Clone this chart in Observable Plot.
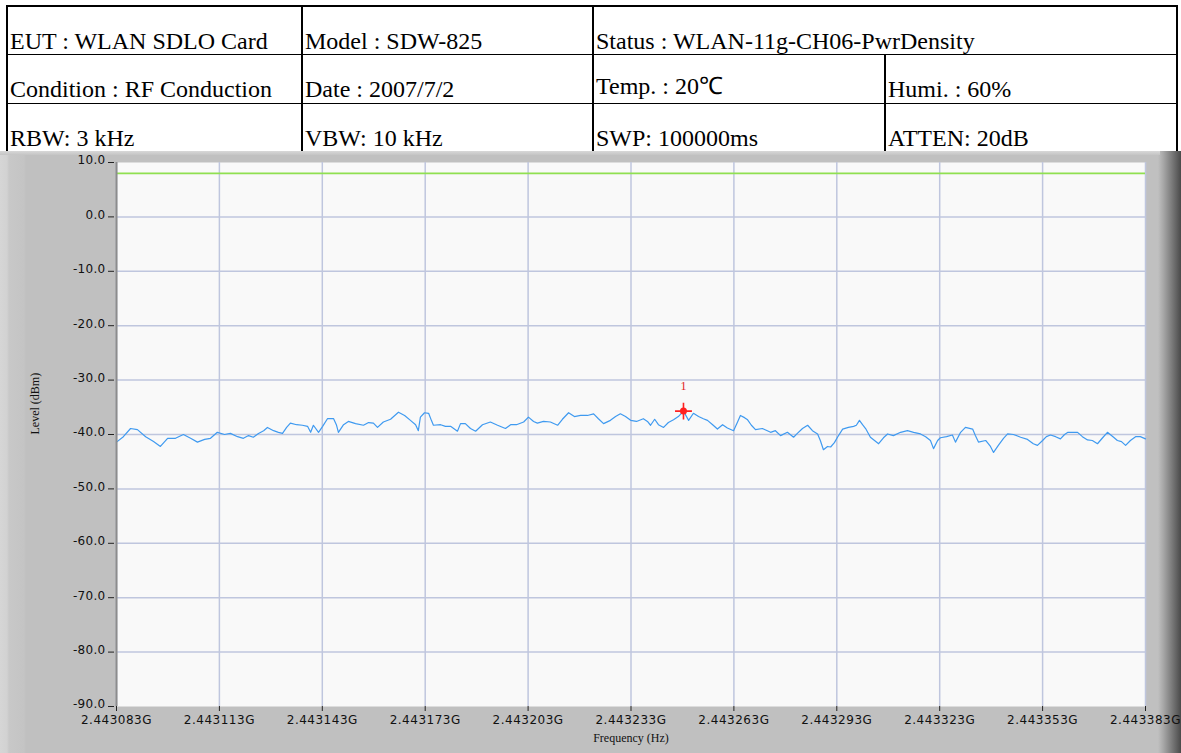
<!DOCTYPE html>
<html>
<head>
<meta charset="utf-8">
<script src="https://cdn.jsdelivr.net/npm/d3@7"></script>
<script src="https://cdn.jsdelivr.net/npm/@observablehq/plot@0.6"></script>
<style>
  html, body { margin: 0; padding: 0; width: 1181px; height: 753px; overflow: hidden; background: #fff; }
  #hdr { position: absolute; left: 0; top: 0; width: 1181px; height: 151px; background: #fff; }
  .ln { position: absolute; background: #000; }
  .cell { position: absolute; font-family: "Liberation Serif", "Times New Roman", serif; font-size: 24px; line-height: 24px; color: #000; white-space: nowrap; }
  #chart { position: absolute; left: 0; top: 151px; width: 1181px; height: 602px;
    background: linear-gradient(to right, #d6d6d6 0px, #d2d2d2 7px, #c8c8c8 9px, #c4c4c4 24px, #c0c0c0 26px, #c0c0c0 1158px, #a9a9a9 1163px, #7a7a7a 1172px, #4a4a4a 1181px); }
  #chart::before { content: ""; position: absolute; left: 0; top: 0; width: 1160px; height: 4px; background: linear-gradient(to bottom, #d8d8d8, #c4c4c4); }
  #chart svg { position: absolute; left: 0; top: 0; }
  #chart svg g[aria-label="x-axis tick label"] text { letter-spacing: 0.5px; }
  #chart svg g[aria-label="y-axis tick label"] text { letter-spacing: 0.3px; }
</style>
</head>
<body>
<div id="hdr"></div>
<div id="chart"></div>
<script>
// ---------- header table text ----------
const headerRow1 = ["EUT : WLAN SDLO Card", "Model : SDW-825", "Status : WLAN-11g-CH06-PwrDensity"];
const headerRow2 = ["Condition : RF Conduction", "Date : 2007/7/2", "Temp. : 20℃", "Humi. : 60%"];
const headerRow3 = ["RBW: 3 kHz", "VBW: 10 kHz", "SWP: 100000ms", "ATTEN: 20dB"];

// ---------- chart data ----------
const startHz = 2443083000;
const freqOffsetKHz = [
  0,2.0,4.1,6.1,8.5,10.8,12.8,14.9,17.2,19.5,
  21.6,23.6,25.7,27.4,29.4,31.5,33.2,35.3,37.0,38.5,
  39.9,41.4,42.9,44.0,45.8,47.2,48.4,49.6,50.7,52.5,
  54.2,55.7,56.6,57.4,58.9,60.1,61.5,63.3,64.1,64.7,
  66.2,67.6,69.7,72.0,73.5,74.9,76.1,77.8,79.9,82.2,
  84.0,85.7,87.2,88.0,88.6,89.8,91.0,91.8,92.4,94.5,
  95.9,97.4,99.4,100.3,101.7,103.2,104.7,106.7,109.0,111.1,
  113.4,114.9,116.6,118.7,120.1,121.6,122.7,124.5,126.5,128.6,
  130.0,131.8,133.5,135.3,137.3,139.1,140.5,142.0,144.0,145.5,
  146.9,148.4,149.9,151.6,153.6,154.8,155.7,156.9,158.0,159.5,
  160.9,162.4,163.8,165.3,166.8,168.2,169.7,171.1,172.3,173.8,
  175.2,176.7,178.1,179.9,181.0,181.9,183.1,184.0,185.1,186.3,
  188.3,190.7,192.1,193.6,195.6,197.4,198.5,200.0,201.5,202.9,
  204.4,205.2,206.1,207.3,208.2,209.3,210.2,211.7,213.4,214.9,
  215.7,216.6,217.5,218.4,219.8,221.0,222.2,223.6,224.8,226.5,
  228.6,230.6,232.4,234.4,235.9,237.3,238.2,239.4,240.2,242.0,
  243.7,244.6,246.1,247.5,249.6,250.4,251.3,253.4,254.8,255.7,
  257.1,258.6,259.8,261.5,263.6,265.6,267.3,268.5,270.0,271.1,
  272.3,273.8,275.2,276.4,277.4,278.7,280.2,281.6,283.1,284.5,
  286.0,287.5,288.9,290.7,291.8,293.0,294.2,295.6,297.1,298.5,
  300.0
];
const levelDbm = [
  -41.4,-40.4,-38.9,-39.1,-40.4,-41.3,-42.2,-40.7,-40.7,-40.0,
  -40.7,-41.4,-40.9,-40.7,-39.6,-40.0,-39.8,-40.4,-40.7,-40.2,
  -40.5,-39.8,-39.3,-38.7,-39.3,-39.6,-39.8,-38.7,-37.9,-38.2,
  -38.3,-38.5,-39.6,-38.3,-39.6,-38.5,-37.1,-37.1,-38.2,-39.6,
  -38.2,-37.6,-38.0,-38.3,-37.8,-37.9,-38.7,-37.7,-37.2,-35.9,
  -36.5,-37.4,-38.2,-39.3,-36.8,-36.0,-36.1,-37.4,-38.3,-38.2,
  -38.5,-38.5,-39.4,-38.0,-38.0,-38.9,-39.4,-38.2,-37.7,-38.3,
  -38.9,-38.2,-38.2,-37.7,-36.8,-37.6,-37.9,-37.6,-37.7,-38.3,
  -37.2,-36.0,-36.7,-36.5,-36.5,-36.2,-37.1,-38.0,-37.4,-36.7,
  -36.2,-36.7,-37.4,-37.6,-37.1,-37.6,-38.3,-37.2,-38.2,-38.7,
  -37.8,-37.3,-36.7,-35.7,-37.4,-36.1,-36.7,-37.1,-37.4,-38.2,
  -39.0,-38.2,-38.8,-39.3,-37.8,-36.5,-36.9,-37.3,-38.3,-39.1,
  -38.9,-39.6,-39.3,-40.2,-39.6,-40.5,-39.8,-38.9,-38.3,-39.3,
  -39.9,-41.1,-42.8,-42.2,-42.3,-41.5,-40.5,-39.0,-38.7,-38.5,
  -38.3,-37.4,-38.2,-38.9,-40.5,-41.1,-41.7,-40.6,-39.9,-40.2,
  -39.6,-39.3,-39.6,-39.9,-40.4,-41.1,-42.6,-41.1,-40.6,-40.4,
  -40.1,-41.4,-39.6,-38.7,-39.0,-40.2,-41.4,-41.1,-42.2,-43.3,
  -42.0,-40.7,-39.9,-40.0,-40.5,-40.9,-41.7,-42.0,-41.1,-40.4,
  -40.1,-40.4,-40.8,-40.0,-39.6,-39.6,-39.6,-40.4,-41.0,-41.1,
  -41.7,-40.6,-39.6,-40.5,-41.1,-41.3,-42.0,-41.1,-40.4,-40.4,
  -40.8
];
const limitDbm = [8];
const markerOffsetKHz = [165.3];
const markerLevel = [-35.7];
const markerLabel = ["1"];

const xTicks = [2443083000,2443113000,2443143000,2443173000,2443203000,2443233000,2443263000,2443293000,2443323000,2443353000,2443383000];
const xTickLabels = ["2.443083G","2.443113G","2.443143G","2.443173G","2.443203G","2.443233G","2.443263G","2.443293G","2.443323G","2.443353G","2.443383G"];
const yTicks = [10,0,-10,-20,-30,-40,-50,-60,-70,-80,-90];
const yTickLabels = ["10.0","0.0","-10.0","-20.0","-30.0","-40.0","-50.0","-60.0","-70.0","-80.0","-90.0"];
const xTitle = "Frequency (Hz)";
const yTitle = "Level (dBm)";

// ---------- header table ----------
const hdr = document.getElementById("hdr");
function line(x, y, w, h) {
  const d = document.createElement("div");
  d.className = "ln";
  Object.assign(d.style, {left: x + "px", top: y + "px", width: w + "px", height: h + "px"});
  hdr.appendChild(d);
}
function cell(text, x, baseline) {
  const d = document.createElement("div");
  d.className = "cell";
  d.textContent = text;
  Object.assign(d.style, {left: x + "px", top: (baseline - 20) + "px"});
  hdr.appendChild(d);
}
line(6, 5, 1172, 2);      // top
line(6, 54, 1172, 1);     // row 1/2
line(6, 103, 1172, 1);    // row 2/3
line(6, 5, 2, 146);       // left
line(301, 5, 2, 146);
line(592, 5, 2, 146);
line(884, 54, 2, 97);
line(1176, 5, 2, 146);    // right

const colX = [10, 305, 596, 888];
headerRow1.forEach((t, i) => cell(t, colX[i], 49));
headerRow2.forEach((t, i) => cell(t, colX[i], i === 2 ? 94 : 97));
headerRow3.forEach((t, i) => cell(t, colX[i], 146));

// ---------- chart ----------
const trace = freqOffsetKHz.map((k, i) => ({f: startHz + k * 1000, v: levelDbm[i]}));
const marker = markerOffsetKHz.map((k, i) => ({f: startHz + k * 1000, v: markerLevel[i], t: markerLabel[i]}));
const xFmt = d => xTickLabels[xTicks.indexOf(d)];
const yFmt = d => yTickLabels[yTicks.indexOf(d)];

const chart = Plot.plot({
  width: 1181,
  height: 602,
  marginLeft: 116,
  marginRight: 36,
  marginTop: 11,
  marginBottom: 47,
  style: {background: "transparent", fontFamily: "DejaVu Sans, sans-serif", fontSize: "12px", color: "#111", overflow: "visible"},
  x: {domain: [xTicks[0], xTicks[xTicks.length - 1]]},
  y: {domain: [-90, 10]},
  marks: [
    Plot.frame({fill: "#f9f9f9", stroke: null}),
    Plot.gridX(xTicks, {stroke: "#bfc6de", strokeOpacity: 1, strokeWidth: 1.5}),
    Plot.gridY(yTicks.slice(1, -1), {stroke: "#bfc6de", strokeOpacity: 1, strokeWidth: 1.5}),
    Plot.ruleY(limitDbm, {stroke: "#90e050", strokeWidth: 1.6}),
    Plot.line(trace, {x: "f", y: "v", stroke: "#3f9af0", strokeWidth: 1.2}),
    Plot.ruleX([xTicks[0]], {stroke: "#8c8c8c", strokeWidth: 2}),
    Plot.axisX(xTicks, {tickSize: 5, tickPadding: 4, tickFormat: xFmt, label: null, fontSize: 12, stroke: "#222"}),
    Plot.axisY(yTicks, {tickSize: 6, dx: -2, text: null, label: null, stroke: "#222"}),
    Plot.axisY(yTicks, {tickSize: 0, tickPadding: 9, dx: -2, dy: -2, tickFormat: yFmt, label: null, fontSize: 12}),
    Plot.text([xTitle], {frameAnchor: "bottom", dy: 35, fontFamily: "Liberation Serif, serif", fontSize: 12, fill: "#111"}),
    Plot.text([yTitle], {frameAnchor: "left", dx: -81, rotate: -90, fontFamily: "Liberation Serif, serif", fontSize: 12, fill: "#111"}),
    Plot.dot(marker, {x: "f", y: "v", r: 3.5, fill: "#ff2020", stroke: null}),
    Plot.dot(marker, {x: "f", y: "v", r: 5.5, symbol: "plus", stroke: "#ff2020", strokeWidth: 1.6}),
    Plot.text(marker, {x: "f", y: "v", text: "t", dy: -25, fill: "#e02020", fontFamily: "Liberation Serif, serif", fontSize: 12})
  ]
});
document.getElementById("chart").appendChild(chart);
</script>
</body>
</html>
